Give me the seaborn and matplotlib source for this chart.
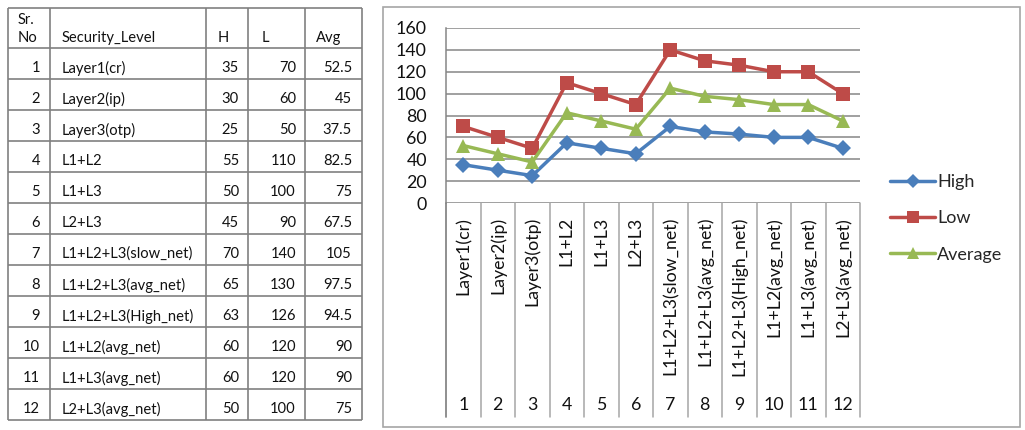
import numpy as np
import pandas as pd
import matplotlib
matplotlib.use("Agg")
import matplotlib.pyplot as plt
import seaborn as sns
from matplotlib.lines import Line2D
from matplotlib.patches import Rectangle

# ---------------- data ----------------
sr_no = [1, 2, 3, 4, 5, 6, 7, 8, 9, 10, 11, 12]
security_level = ["Layer1(cr)", "Layer2(ip)", "Layer3(otp)", "L1+L2", "L1+L3", "L2+L3",
                  "L1+L2+L3(slow_net)", "L1+L2+L3(avg_net)", "L1+L2+L3(High_net)",
                  "L1+L2(avg_net)", "L1+L3(avg_net)", "L2+L3(avg_net)"]
high = [35, 30, 25, 55, 50, 45, 70, 65, 63, 60, 60, 50]
low = [70, 60, 50, 110, 100, 90, 140, 130, 126, 120, 120, 100]
average = [52.5, 45, 37.5, 82.5, 75, 67.5, 105, 97.5, 94.5, 90, 90, 75]
table_headers = ["Sr.\nNo", "Security_Level", "H", "L", "Avg"]
series_names = ["High", "Low", "Average"]
y_ticks = [0, 20, 40, 60, 80, 100, 120, 140, 160]

# ---------------- style ----------------
sns.set_style("white")
plt.rcParams['font.family'] = ['Lato', 'DejaVu Sans']
W, H = 1025, 430
fig = plt.figure(figsize=(W / 100, H / 100), dpi=100)

# background axes in pixel coordinates (table + chart frame)
bg = fig.add_axes([0, 0, 1, 1])
bg.set_xlim(0, W)
bg.set_ylim(H, 0)
bg.axis("off")

tcol = "#808080"
txt = "#111111"
col_x = [8, 50, 206, 248, 305, 362]
top, head_bot, row_h = 8, 48, 31
n = len(sr_no)
bottom = head_bot + row_h * n
for x in col_x:
    bg.plot([x, x], [top, bottom], color=tcol, lw=1.2, solid_capstyle="butt")
for y in [top, head_bot] + [head_bot + row_h * (k + 1) for k in range(n)]:
    bg.plot([col_x[0], col_x[-1]], [y, y], color=tcol, lw=1.2, solid_capstyle="butt")

fs_t = 10.6
# header
sr_a, sr_b = table_headers[0].split("\n")
bg.text(18, 20, sr_a, fontsize=fs_t, color=txt, va="center", ha="left")
bg.text(18, 38, sr_b, fontsize=fs_t, color=txt, va="center", ha="left")
bg.text(62, 38, table_headers[1], fontsize=fs_t, color=txt, va="center", ha="left")
bg.text(218, 38, table_headers[2], fontsize=fs_t, color=txt, va="center", ha="left")
bg.text(262, 38, table_headers[3], fontsize=fs_t, color=txt, va="center", ha="left")
bg.text(316, 38, table_headers[4], fontsize=fs_t, color=txt, va="center", ha="left")
for k in range(n):
    yc = head_bot + row_h * k + 20
    bg.text(40, yc, str(sr_no[k]), fontsize=fs_t, color=txt, va="center", ha="right")
    bg.text(62, yc, security_level[k], fontsize=fs_t, color=txt, va="center", ha="left")
    bg.text(239, yc, f"{high[k]:g}", fontsize=fs_t, color=txt, va="center", ha="right")
    bg.text(296, yc, f"{low[k]:g}", fontsize=fs_t, color=txt, va="center", ha="right")
    bg.text(352, yc, f"{average[k]:g}", fontsize=fs_t, color=txt, va="center", ha="right")

# chart frame
bg.add_patch(Rectangle((383, 7), 1020 - 383, 427 - 7, fill=False, ec="#a6a6a6", lw=1.2))

# ---------------- chart ----------------
px_l, px_r, px_t, px_b = 446, 860, 28, 203
ax = fig.add_axes([px_l / W, 1 - px_b / H, (px_r - px_l) / W, (px_b - px_t) / H])
ax.patch.set_alpha(0)

df = pd.DataFrame({
    "pos": list(range(n)) * 3,
    "value": high + low + average,
    "series": [series_names[0]] * n + [series_names[1]] * n + [series_names[2]] * n,
})
palette = {"High": "#4A7EBB", "Low": "#BE4B48", "Average": "#98B954"}
markers = {"High": "D", "Low": "s", "Average": "^"}
msize = {"High": 8, "Low": 9.5, "Average": 10.5}
sns.lineplot(data=df, x="pos", y="value", hue="series", style="series",
             markers=markers, dashes=False, palette=palette, linewidth=2.5,
             markeredgewidth=0, ax=ax, legend=False, zorder=3)
for line, name in zip(ax.lines, series_names):
    line.set_markersize(msize[name])
    line.set_clip_on(False)

ax.set_xlim(-0.5, n - 0.5)
ax.set_ylim(0, 160)
ax.set_yticks(y_ticks)
ax.set_xticks([])
ax.set_xlabel("")
ax.set_ylabel("")
grid_c = "#868686"
ax.yaxis.grid(True, color=grid_c, lw=1.1)
ax.set_axisbelow(True)
for s in ["top", "right", "bottom"]:
    ax.spines[s].set_visible(False)
ax.spines["left"].set_color(grid_c)
ax.spines["left"].set_linewidth(1.1)
ax.tick_params(axis="y", length=5.8, width=1.1, color=grid_c, pad=8, labelsize=12.8, labelcolor=txt)

# category axis (separators, rotated names, numbers)
ax_h = px_b - px_t
sep_bottom = -(417 - px_b) / ax_h
xt = ax.get_xaxis_transform()
for b in np.arange(n + 1) - 0.5:
    ax.plot([b, b], [0, sep_bottom], transform=xt, color="#a6a6a6", lw=1.1, clip_on=False)
ax.plot([-0.5, -0.5], [0, sep_bottom], transform=xt, color=grid_c, lw=1.1, clip_on=False)
for i in range(n):
    ax.annotate(security_level[i], xy=(i, 0), xycoords=("data", "axes fraction"),
                xytext=(0, -14 * 0.72), textcoords="offset points", rotation=90,
                ha="center", va="top", fontsize=12.8, color=txt)
    ax.annotate(str(sr_no[i]), xy=(i, 0), xycoords=("data", "axes fraction"),
                xytext=(0, -(405 - px_b) * 0.72), textcoords="offset points",
                ha="center", va="center", fontsize=12.8, color=txt)

# legend
handles = [Line2D([0], [0], color=palette[s], marker=markers[s], lw=2.5,
                  markersize=msize[s] * 0.85, markeredgewidth=0) for s in series_names]
fig.legend(handles, series_names, loc="upper left", bbox_to_anchor=(883 / W, 1 - 167 / H),
           frameon=False, handlelength=2.5, handletextpad=0.1, labelspacing=1.12,
           fontsize=13, borderaxespad=0, numpoints=1)

fig.savefig("out.png", dpi=100)
